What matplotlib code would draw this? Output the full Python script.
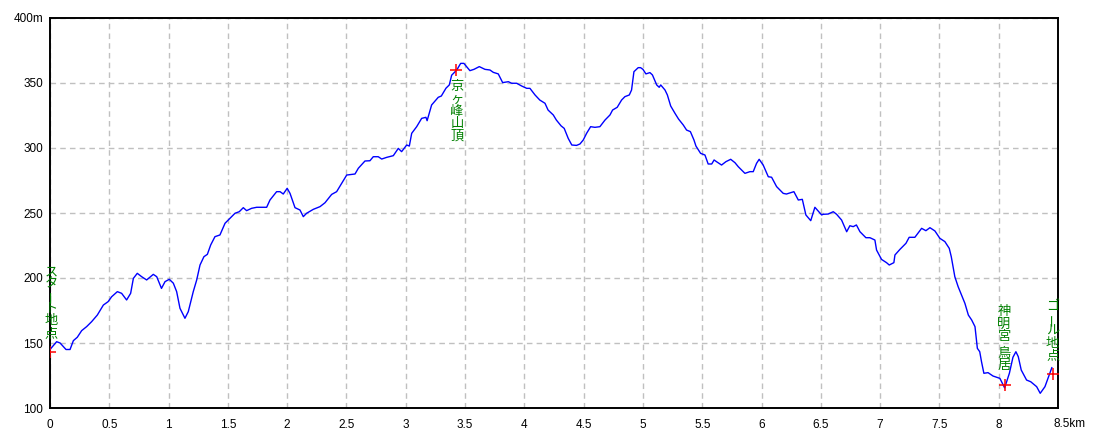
import matplotlib
matplotlib.use("Agg")
import matplotlib.pyplot as plt

# ---- data (distance in km, elevation in m) ----
dist = [0.00, 0.056, 0.085, 0.135, 0.169, 0.197, 0.23, 0.267, 0.309, 0.351, 0.399, 0.45, 0.49, 0.52,
        0.568, 0.604, 0.646, 0.68, 0.703, 0.736, 0.773, 0.815, 0.871, 0.9, 0.94, 0.97, 1.006, 1.04,
        1.068, 1.096, 1.138, 1.166, 1.208, 1.237, 1.265, 1.298, 1.327, 1.355, 1.391, 1.433, 1.476,
        1.518, 1.56, 1.596, 1.63, 1.658, 1.7, 1.743, 1.827, 1.855, 1.911, 1.94, 1.967, 2.0, 2.024,
        2.066, 2.108, 2.136, 2.164, 2.22, 2.277, 2.319, 2.375, 2.417, 2.46, 2.502, 2.572, 2.6, 2.656,
        2.698, 2.726, 2.768, 2.797, 2.839, 2.895, 2.937, 2.965, 3.008, 3.03, 3.05, 3.092, 3.134, 3.17,
        3.18, 3.218, 3.274, 3.3, 3.339, 3.367, 3.387, 3.43, 3.463, 3.49, 3.541, 3.575, 3.62, 3.668,
        3.71, 3.738, 3.78, 3.817, 3.865, 3.893, 3.935, 3.977, 4.02, 4.047, 4.09, 4.13, 4.174, 4.2,
        4.244, 4.27, 4.31, 4.336, 4.37, 4.4, 4.44, 4.469, 4.497, 4.525, 4.559, 4.595, 4.637, 4.68,
        4.722, 4.744, 4.783, 4.82, 4.848, 4.885, 4.904, 4.924, 4.96, 4.98, 5.0, 5.025, 5.059, 5.08,
        5.116, 5.137, 5.15, 5.186, 5.206, 5.234, 5.27, 5.3, 5.34, 5.368, 5.4, 5.43, 5.447, 5.486,
        5.523, 5.55, 5.58, 5.6, 5.62, 5.663, 5.7, 5.74, 5.776, 5.804, 5.86, 5.902, 5.93, 5.958, 5.98,
        6.014, 6.057, 6.085, 6.127, 6.183, 6.21, 6.273, 6.31, 6.344, 6.374, 6.415, 6.45, 6.507, 6.52,
        6.562, 6.605, 6.633, 6.675, 6.718, 6.745, 6.773, 6.8, 6.83, 6.88, 6.914, 6.956, 6.97, 7.012,
        7.054, 7.077, 7.116, 7.125, 7.167, 7.218, 7.245, 7.293, 7.35, 7.386, 7.42, 7.462, 7.504,
        7.546, 7.583, 7.6, 7.63, 7.658, 7.687, 7.715, 7.744, 7.772, 7.8, 7.82, 7.84, 7.855, 7.875,
        7.91, 7.952, 8.01, 8.05, 8.09, 8.12, 8.145, 8.165, 8.19, 8.235, 8.27, 8.32, 8.35, 8.39,
        8.426, 8.448]
elev = [145, 151, 150, 145, 145, 151.8, 154.4, 159.5, 162.6, 166.4, 171.5, 179.2, 181.8, 185.6,
        189.5, 188.2, 183.1, 188.2, 199.7, 203.6, 201, 198.5, 202.8, 201, 192, 197.2, 199, 196,
        189.5, 176.7, 169, 174.1, 189.5, 198.5, 210, 216.4, 218.2, 225.4, 231.8, 233.1, 242.1,
        245.9, 249.8, 251, 254.1, 251.8, 253.6, 254.4, 254.4, 260, 266.4, 266.4, 264.6, 269, 265.1,
        254.1, 252.3, 247.2, 249.8, 252.8, 254.9, 257.9, 264.3, 266.4, 272.8, 279.2, 280, 284.4, 290,
        290.2, 293.3, 293.3, 291.5, 292.8, 294.1, 299.7, 297.2, 302.3, 301.5, 311.3, 316.4, 322.8, 323.6,
        321, 333.1, 339, 340, 346, 348.5, 356, 360, 365.1, 365.1, 359.5, 360.5, 362.6, 360.5,
        360, 358.2, 357, 350.3, 351, 349.8, 349.8, 347.7, 345.9, 345.9, 340.8, 336.9, 334.4, 329.2,
        325.4, 321.5, 317, 315.1, 307.4, 302.3, 302, 303.1, 306.2, 311.3, 316.4, 315.9, 316.4, 321.5,
        325.4, 329.2, 331.3, 336.9, 339.5, 340.8, 344.6, 358.7, 361.8, 361.8, 360.5, 357, 358, 356.2,
        348.5, 346.7, 348.5, 344.6, 340.8, 332.3, 326.7, 322.3, 317.7, 313.8, 312.6, 306.2, 301.5, 295.9,
        294.6, 287.7, 287.7, 290.8, 289.5, 286.9, 289.5, 291.3, 288.7, 285.6, 280.5, 281.8, 281.8, 288.2, 291.3,
        286.9, 277.9, 277.5, 270.3, 265.1, 264.6, 266.4, 260, 260.5, 248.5, 244.1, 254.4, 248.5, 249,
        249.2, 251, 249, 244.6, 235.6, 240.2, 239.5, 240.8, 235.6, 231, 231, 229.2, 221.5, 214.3,
        211.8, 210, 211.8, 217.7, 222, 226.7, 231.3, 231.3, 238.2, 236.4, 238.7, 236.2, 230.5,
        228, 222.8, 216.4, 201, 193.3, 186.9, 180.5, 171.5, 167.7, 162.6, 145.9, 143.3, 135.6, 126.7,
        127.2, 124.6, 122.8, 115.5, 126.7, 139, 143.3, 139.5, 129.2, 121.5, 120.2, 116.4, 111.3, 116.4,
        125.4, 131.0]

# waypoint markers
wp_names = ["スタート地点", "京ヶ峰山頂", "神明宮 鳥居", "ゴール地点"]
wp_x = [0.0, 3.425, 8.05, 8.455]
wp_y = [143, 360, 118, 126.5]
# label anchor (x, y of first character centre)
lab_x = [0.012, 3.43, 8.045, 8.455]
lab_y = [204.8, 347.2, 174.1, 177.9]

xticks = [0, 0.5, 1, 1.5, 2, 2.5, 3, 3.5, 4, 4.5, 5, 5.5, 6, 6.5, 7, 7.5, 8, 8.5]
xticklabels = ["0", "0.5", "1", "1.5", "2", "2.5", "3", "3.5", "4", "4.5", "5", "5.5", "6",
               "6.5", "7", "7.5", "8", ""]
xlast_label = "8.5km"
yticks = [100, 150, 200, 250, 300, 350, 400]
yticklabels = ["100", "150", "200", "250", "300", "350", "400m"]

# ---- figure ----
fig = plt.figure(figsize=(11, 4.4), dpi=100)
ax = fig.add_axes([50 / 1100, 1 - 408 / 440, 1008 / 1100, 390 / 440])
ax.set_xlim(0, 8.5)
ax.set_ylim(100, 400)

tick_font = dict(family=["Liberation Sans Narrow", "Liberation Sans", "DejaVu Sans"], size=8.5)
ax.set_xticks(xticks)
ax.set_xticklabels(xticklabels, **tick_font)
ax.set_yticks(yticks)
ax.set_yticklabels(yticklabels, **tick_font)
ax.tick_params(axis="both", length=0, colors="black")
ax.tick_params(axis="x", pad=8)
ax.tick_params(axis="y", pad=5)
ax.annotate(xlast_label, xy=(8.5, 0), xycoords=("data", "axes fraction"),
            xytext=(-5, -10), textcoords="offset pixels", ha="left", va="top", **tick_font)

ax.grid(True, color="#c0c0c0", linestyle=(0, (4, 3)), linewidth=1.0)
ax.set_axisbelow(True)
for s in ax.spines.values():
    s.set_linewidth(1.4)
    s.set_color("black")

ax.plot(dist, elev, color="#0000ff", linewidth=1.0, zorder=3)
ax.plot(wp_x, wp_y, linestyle="none", marker="+", markersize=9, markeredgewidth=1.1,
        color="#ff0000", zorder=4)

step = 12.3 / 1.3   # one character step in metres (12.3 px)
space = 5.0 / 1.3
jp = ["Noto Sans CJK JP", "DejaVu Sans"]
for name, x, y in zip(wp_names, lab_x, lab_y):
    yy = y
    for ch in name:
        if ch == " ":
            yy -= space
            continue
        rot = 90 if ch == "ー" else 0
        ax.text(x, yy, ch, ha="center", va="center", color="#008000", fontsize=9.5,
                family=jp, rotation=rot, zorder=5)
        yy -= step

fig.savefig("out.png", dpi=100)
